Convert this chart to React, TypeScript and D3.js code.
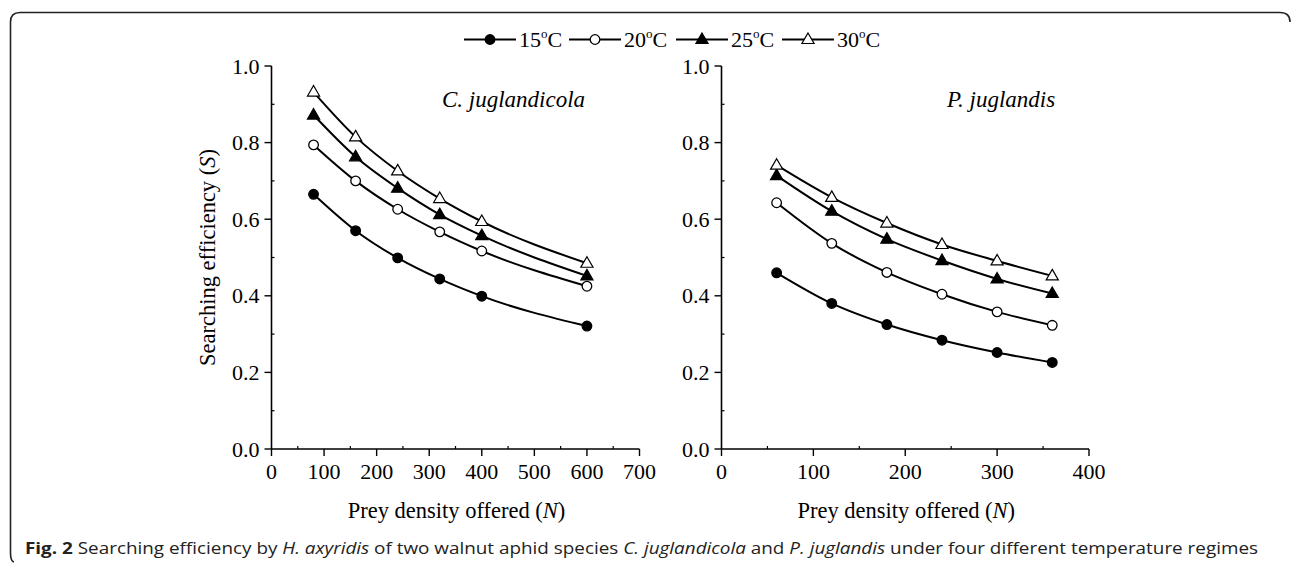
import * as d3 from "d3";
import {useRef, useEffect} from "react";

// prey densities offered
const cjDensity = [80, 160, 240, 320, 400, 600];
const pjDensity = [60, 120, 180, 240, 300, 360];

// C. juglandicola searching efficiency
const cj15 = [0.665, 0.570, 0.499, 0.444, 0.399, 0.321];
const cj20 = [0.794, 0.700, 0.626, 0.567, 0.517, 0.425];
const cj25 = [0.872, 0.763, 0.681, 0.612, 0.557, 0.452];
const cj30 = [0.932, 0.815, 0.726, 0.654, 0.594, 0.485];

// P. juglandis searching efficiency
const pj15 = [0.460, 0.380, 0.325, 0.284, 0.252, 0.226];
const pj20 = [0.643, 0.537, 0.461, 0.404, 0.358, 0.323];
const pj25 = [0.714, 0.621, 0.548, 0.492, 0.444, 0.406];
const pj30 = [0.741, 0.657, 0.590, 0.534, 0.491, 0.452];

const temps = ["15", "20", "25", "30"];
const yTicks = [0, 0.2, 0.4, 0.6, 0.8, 1.0];
const cjXTicks = [0, 100, 200, 300, 400, 500, 600, 700];
const pjXTicks = [0, 100, 200, 300, 400];

const serif = "'Liberation Serif', 'Times New Roman', serif";

function drawMarker(g, kind, x, y) {
    if (kind === 0 || kind === 1) {
        g.append("circle")
            .attr("cx", x).attr("cy", y).attr("r", 4.8)
            .attr("fill", kind === 0 ? "#000" : "#fff")
            .attr("stroke", "#000").attr("stroke-width", 1.3);
    } else {
        g.append("path")
            .attr("d", d3.symbol().type(d3.symbolTriangle).size(64)())
            .attr("transform", `translate(${x},${y + 0.5})`)
            .attr("fill", kind === 2 ? "#000" : "#fff")
            .attr("stroke", "#000").attr("stroke-width", 1.2);
    }
}

function drawPanel(svg, opts) {
    const {left, right, top, bottom, xMax, xTicks, density, series, label, labelX, yTitle} = opts;
    const x = d3.scaleLinear().domain([0, xMax]).range([left, right]);
    const y = d3.scaleLinear().domain([0, 1]).range([bottom, top]);
    const g = svg.append("g");

    // axes
    g.append("line").attr("x1", left).attr("x2", left).attr("y1", top).attr("y2", bottom)
        .attr("stroke", "#000").attr("stroke-width", 1.6);
    g.append("line").attr("x1", left).attr("x2", right).attr("y1", bottom).attr("y2", bottom)
        .attr("stroke", "#000").attr("stroke-width", 1.6);

    yTicks.forEach(t => {
        g.append("line").attr("x1", left - 7).attr("x2", left).attr("y1", y(t)).attr("y2", y(t))
            .attr("stroke", "#000").attr("stroke-width", 1.4);
        g.append("text").attr("x", left - 12).attr("y", y(t) + 7.5)
            .attr("text-anchor", "end").attr("font-family", serif).attr("font-size", 22)
            .text(t.toFixed(1));
    });
    for (let t = 0.1; t < 1; t += 0.2) {
        g.append("line").attr("x1", left).attr("x2", left + 3).attr("y1", y(t)).attr("y2", y(t))
            .attr("stroke", "#000").attr("stroke-width", 1.2);
    }
    xTicks.forEach((t, i) => {
        g.append("line").attr("x1", x(t)).attr("x2", x(t)).attr("y1", bottom).attr("y2", bottom + 7)
            .attr("stroke", "#000").attr("stroke-width", 1.4);
        g.append("text").attr("x", x(t)).attr("y", bottom + 30)
            .attr("text-anchor", "middle").attr("font-family", serif).attr("font-size", 22)
            .text(t);
        if (i < xTicks.length - 1) {
            const m = (t + xTicks[i + 1]) / 2;
            g.append("line").attr("x1", x(m)).attr("x2", x(m)).attr("y1", bottom).attr("y2", bottom - 3)
                .attr("stroke", "#000").attr("stroke-width", 1.2);
        }
    });

    // x title
    const xt = g.append("text").attr("x", (left + right) / 2 + 1).attr("y", bottom + 69)
        .attr("text-anchor", "middle").attr("font-family", serif).attr("font-size", 22.5);
    xt.append("tspan").text("Prey density offered (");
    xt.append("tspan").attr("font-style", "italic").text("N");
    xt.append("tspan").text(")");

    if (yTitle) {
        const yt = g.append("text")
            .attr("transform", `translate(${left - 57},${(top + bottom) / 2}) rotate(-90)`)
            .attr("text-anchor", "middle").attr("font-family", serif).attr("font-size", 22.5);
        yt.append("tspan").text("Searching efficiency (");
        yt.append("tspan").attr("font-style", "italic").text("S");
        yt.append("tspan").text(")");
    }

    g.append("text").attr("x", labelX).attr("y", top + 41)
        .attr("font-family", serif).attr("font-size", 23).attr("font-style", "italic")
        .text(label);

    const line = d3.line().x((d, i) => x(density[i])).y(d => y(d)).curve(d3.curveMonotoneX);
    series.forEach(vals => {
        g.append("path").attr("d", line(vals)).attr("fill", "none")
            .attr("stroke", "#000").attr("stroke-width", 2);
    });
    series.forEach((vals, k) => {
        vals.forEach((v, i) => drawMarker(g, k, x(density[i]), y(v)));
    });
}

export default function App() {
    const svgRef = useRef(null);

    useEffect(() => {
        const svg = d3.select(svgRef.current);
        svg.selectAll("*").remove();

        // frame (top and left edges with rounded corners)
        svg.append("path")
            .attr("d", "M1290,22 Q1290,12.5 1280,12.5 L20,12.5 Q10.5,12.5 10.5,22 L10.5,553 Q10.5,561 14,562")
            .attr("fill", "none").attr("stroke", "#222").attr("stroke-width", 1.6);

        // legend
        const legendX = [464, 569, 676, 782];
        temps.forEach((t, k) => {
            const lx = legendX[k];
            svg.append("line").attr("x1", lx).attr("x2", lx + 52).attr("y1", 39.5).attr("y2", 39.5)
                .attr("stroke", "#000").attr("stroke-width", 2);
            drawMarker(svg, k, lx + 26, 39.5);
            const tx = svg.append("text").attr("x", lx + 55).attr("y", 46.5)
                .attr("font-family", serif).attr("font-size", 22);
            tx.append("tspan").text(t);
            tx.append("tspan").attr("font-size", 13).attr("dy", -9).text("o");
            tx.append("tspan").attr("dy", 9).text("C");
        });

        drawPanel(svg, {
            left: 271.5, right: 639.5, top: 66, bottom: 449, xMax: 700,
            xTicks: cjXTicks, density: cjDensity, series: [cj15, cj20, cj25, cj30],
            label: "C. juglandicola", labelX: 442, yTitle: true
        });
        drawPanel(svg, {
            left: 721.5, right: 1089, top: 66, bottom: 449, xMax: 400,
            xTicks: pjXTicks, density: pjDensity, series: [pj15, pj20, pj25, pj30],
            label: "P. juglandis", labelX: 947, yTitle: false
        });

        // caption
        const cap = svg.append("text").attr("x", 25).attr("y", 554)
            .attr("font-family", "'Open Sans', 'Noto Sans', sans-serif").attr("font-size", 16.5)
            .attr("fill", "#222")
            .attr("textLength", 1233).attr("lengthAdjust", "spacingAndGlyphs");
        cap.append("tspan").attr("font-weight", "bold").text("Fig. 2");
        cap.append("tspan").text(" Searching efficiency by ");
        cap.append("tspan").attr("font-style", "italic").text("H. axyridis");
        cap.append("tspan").text(" of two walnut aphid species ");
        cap.append("tspan").attr("font-style", "italic").text("C. juglandicola");
        cap.append("tspan").text(" and ");
        cap.append("tspan").attr("font-style", "italic").text("P. juglandis");
        cap.append("tspan").text(" under four different temperature regimes");
    }, []);

    return (
        <div>
            <style>{`body{margin:0;background:#fff}`}</style>
            <svg ref={svgRef} width={1292} height={565} style={{display: "block"}}></svg>
        </div>
    );
}
